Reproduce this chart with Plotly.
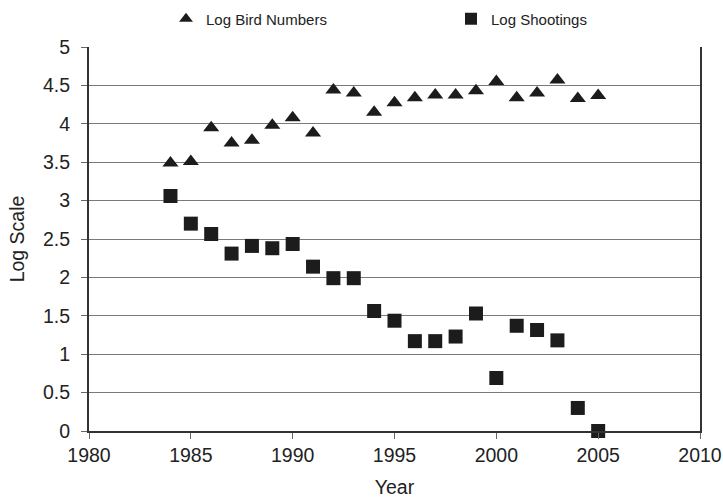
import plotly.graph_objects as go

years = [1984, 1985, 1986, 1987, 1988, 1989, 1990, 1991, 1992, 1993, 1994,
         1995, 1996, 1997, 1998, 1999, 2000, 2001, 2002, 2003, 2004, 2005]
log_birds = [3.49, 3.51, 3.95, 3.75, 3.785, 3.98, 4.08, 3.88, 4.44, 4.40, 4.15,
             4.275, 4.34, 4.375, 4.375, 4.43, 4.55, 4.34, 4.40, 4.57, 4.33, 4.37]
log_shootings = [3.06, 2.70, 2.565, 2.31, 2.41, 2.38, 2.435, 2.14, 1.99, 1.99, 1.5625,
                 1.436, 1.17, 1.17, 1.23, 1.53, 0.69, 1.37, 1.315, 1.18, 0.30, 0.0]

x_ticks = [1980, 1985, 1990, 1995, 2000, 2005, 2010]
y_ticks = [0, 0.5, 1, 1.5, 2, 2.5, 3, 3.5, 4, 4.5, 5]
y_ticktext = ["0", "0.5", "1", "1.5", "2", "2.5", "3", "3.5", "4", "4.5", "5"]

FONT = "Liberation Sans, Arial, sans-serif"
INK = "#1c1c1c"

W, H = 723, 498

fig = go.Figure()
fig.add_trace(go.Scatter(
    x=years, y=log_birds, mode="markers", name="Log Bird Numbers",
    marker=dict(symbol="triangle-up", size=14, color=INK, line=dict(width=0)),
    cliponaxis=False, legend="legend",
))
fig.add_trace(go.Scatter(
    x=years, y=log_shootings, mode="markers", name="Log Shootings",
    marker=dict(symbol="square", size=14, color=INK, line=dict(width=0)),
    cliponaxis=False, legend="legend2",
))

leg_common = dict(
    orientation="h", xanchor="left", yanchor="middle",
    xref="container", yref="container",
    font=dict(size=15, color="#222"), itemsizing="constant",
    bgcolor="rgba(0,0,0,0)", borderwidth=0,
)

fig.update_layout(
    width=W, height=H,
    margin=dict(l=89, r=23, t=47, b=67, autoexpand=False),
    paper_bgcolor="white", plot_bgcolor="white",
    font=dict(family=FONT, color="#222", size=19),
    showlegend=True,
    legend=dict(x=166 / W, y=1 - 19 / H, **leg_common),
    legend2=dict(x=451 / W, y=1 - 19 / H, **leg_common),
    xaxis=dict(
        range=[1980, 2010], tickvals=x_ticks, ticktext=[str(v) for v in x_ticks],
        showgrid=False, zeroline=False, automargin=False,
        showline=True, linecolor="#333", linewidth=2,
        ticks="outside", ticklen=6, tickcolor="#666", tickwidth=1,
        tickfont=dict(size=19.5, color="#222"),
        title=dict(text="Year", font=dict(size=19.5, color="#222"), standoff=25),
    ),
    yaxis=dict(
        range=[0, 5], tickvals=y_ticks, ticktext=y_ticktext,
        showgrid=True, gridcolor="#7a7a7a", gridwidth=1,
        zeroline=False, automargin=False,
        showline=True, linecolor="#333", linewidth=2, mirror=True,
        ticks="outside", ticklen=6, tickcolor="#666", tickwidth=1,
        tickfont=dict(size=19.5, color="#222"),
        ticklabelstandoff=7,
        title=dict(text="Log Scale", font=dict(size=19.5, color="#222"), standoff=13),
    ),
)

fig.write_html(
    "out.html",
    config={"displayModeBar": False},
    post_script="document.body.style.margin='0';document.body.style.overflow='hidden';",
)
